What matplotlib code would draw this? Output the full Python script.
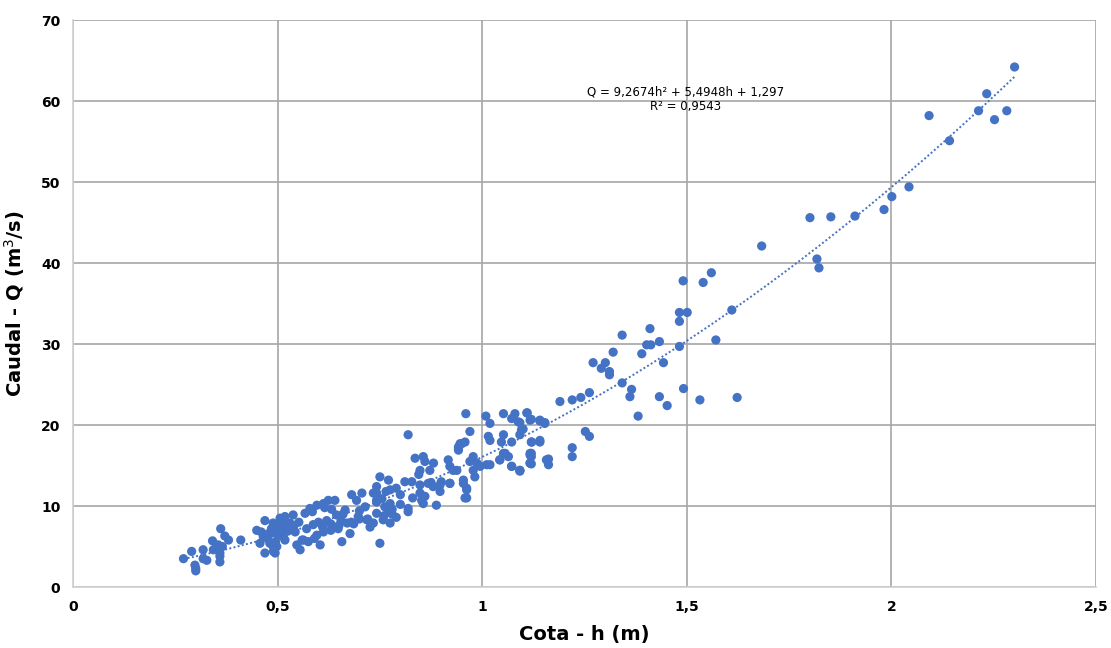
import numpy as np
import matplotlib
matplotlib.use("Agg")
import matplotlib.pyplot as plt
from matplotlib.ticker import FuncFormatter

# ============================================================
# DATA
# ============================================================

# cota h (m)
h = [
    0.270, 0.290, 0.298, 0.300, 0.318, 0.318, 0.327, 0.341, 0.343, 0.355,
    0.361, 0.359, 0.359, 0.371, 0.380, 0.410, 0.359, 0.300,
    0.449, 0.469, 0.457, 0.469, 0.481, 0.490, 0.498, 0.506, 0.514, 0.518,
    0.481, 0.498, 0.489, 0.506, 0.518, 0.498, 0.514, 0.489, 0.494, 0.460,
    0.538, 0.543, 0.567, 0.579, 0.596, 0.612, 0.624, 0.640, 0.571, 0.587,
    0.596, 0.612, 0.563, 0.575, 0.547, 0.555, 0.604, 0.644, 0.648, 0.657,
    0.677, 0.665, 0.681, 0.693, 0.706, 0.714, 0.697, 0.718, 0.726, 0.742,
    0.734, 0.750, 0.530, 0.552, 0.620, 0.632, 0.660, 0.686, 0.700, 0.670,
    0.750, 0.742, 0.742, 0.742, 0.771, 0.775, 0.762, 0.771, 0.742, 0.758,
    0.734, 0.775, 0.775, 0.819, 0.819, 0.811, 0.828, 0.836, 0.856, 0.848,
    0.860, 0.872, 0.881, 0.848, 0.868, 0.848, 0.852, 0.856, 0.888, 0.897,
    0.897, 0.921, 0.917, 0.921, 0.938, 0.942, 0.950, 0.954, 0.962, 0.962,
    0.819, 0.982, 1.011, 1.043, 1.052, 1.072, 1.092, 1.117, 1.117, 0.942,
    0.960, 1.009, 1.019, 1.052, 1.072, 1.080, 1.088, 1.109, 1.117, 1.141,
    1.153, 1.096, 1.092, 1.052, 1.047, 1.072, 1.015, 1.019, 0.970, 0.958,
    0.946, 0.942, 0.978, 0.970, 0.987, 0.995, 0.978, 1.019, 1.043, 1.056,
    1.064, 1.072, 1.092, 1.121, 1.141, 1.117, 1.117, 1.157, 0.929, 0.954,
    0.962, 0.958, 0.921, 0.900, 0.880, 0.830, 0.800, 0.790, 0.780, 0.760,
    0.720, 0.700, 0.680, 0.650, 0.630, 0.610, 0.590, 0.560, 0.540, 0.520,
    0.475, 0.485, 0.495, 0.505, 0.512, 0.525, 0.530, 0.478, 0.585, 0.600,
    0.615, 0.630, 0.655, 0.755, 0.765, 0.780, 0.790, 0.800, 0.845, 0.860,
    0.875, 0.500, 0.465, 0.350, 0.365,
    1.110, 1.120, 1.141, 1.153, 1.092, 1.100, 1.252, 1.262, 1.120, 1.141,
    1.220, 1.220, 1.120, 1.120, 1.162, 1.162, 1.120, 1.092, 1.190, 1.220,
    1.241, 1.262, 1.381, 1.365, 1.361, 1.492, 1.433, 1.452, 1.532, 1.623,
    1.342, 1.311, 1.311, 1.291, 1.301, 1.271, 1.443, 1.320, 1.390, 1.433,
    1.402, 1.412, 1.342, 1.410, 1.482, 1.482, 1.501, 1.482, 1.571, 1.610,
    1.491, 1.540, 1.560, 1.683, 1.801, 1.852, 1.911, 1.818, 1.823, 1.982,
    2.001, 2.043, 2.142, 2.092, 2.213, 2.252, 2.282, 2.233, 2.301,
]

# caudal Q (m3/s)
Q = [
    3.5, 4.4, 2.7, 2.3, 4.6, 3.5, 3.3, 5.7, 4.6, 5.2,
    7.2, 3.1, 4.2, 6.3, 5.8, 5.8, 3.8, 2.0,
    7.0, 8.2, 5.4, 4.2, 5.4, 4.4, 6.6, 7.9, 7.0, 5.8,
    6.6, 5.0, 7.9, 8.5, 8.7, 6.6, 6.2, 5.0, 4.2, 6.8,
    8.9, 6.8, 9.1, 9.7, 10.1, 10.3, 10.7, 10.7, 7.2, 7.7,
    6.4, 6.8, 5.8, 5.6, 5.2, 4.6, 5.2, 8.9, 7.2, 5.6,
    6.6, 9.5, 11.4, 10.7, 11.6, 9.9, 8.7, 8.3, 7.4, 10.5,
    11.6, 5.4, 7.6, 8.0, 8.2, 9.6, 9.0, 7.8, 8.4, 7.9,
    13.6, 12.4, 11.6, 10.7, 13.2, 12.0, 9.9, 9.3, 9.1, 8.3,
    7.9, 7.9, 10.3, 9.7, 9.3, 13.0, 13.0, 15.9, 16.1, 14.4,
    15.5, 14.4, 15.3, 12.6, 12.8, 11.6, 10.7, 10.3, 10.1, 12.6,
    11.8, 12.8, 15.7, 14.9, 14.4, 17.1, 17.7, 12.8, 12.0, 11.0,
    18.8, 13.6, 15.1, 15.7, 16.5, 14.9, 14.3, 16.3, 15.3, 17.3,
    21.4, 21.1, 20.2, 21.4, 20.8, 21.4, 20.4, 21.5, 20.6, 20.5,
    20.2, 19.4, 18.8, 18.8, 17.9, 17.9, 18.6, 18.1, 19.2, 17.9,
    17.7, 16.9, 16.1, 15.5, 15.3, 14.9, 14.4, 15.1, 15.7, 16.5,
    16.1, 14.9, 14.4, 17.9, 17.9, 16.5, 15.3, 15.7, 14.4, 13.2,
    12.2, 11.0, 12.8, 13.0, 12.4, 11.0, 10.2, 12.2, 9.6, 8.8,
    8.4, 9.4, 8.0, 7.6, 7.0, 7.4, 6.0, 5.8, 7.6, 8.0,
    6.0, 7.2, 5.6, 6.4, 7.6, 6.9, 7.9, 6.6, 9.3, 8.0,
    9.8, 7.8, 8.2, 10.9, 11.8, 9.0, 8.6, 11.4, 13.9, 11.2,
    12.9, 7.4, 6.2, 4.8, 5.0,
    21.5, 20.7, 20.6, 20.3, 20.3, 19.5, 19.2, 18.6, 17.9, 18.1,
    17.2, 16.1, 16.5, 16.1, 15.8, 15.1, 15.2, 14.4, 22.9, 23.1,
    23.4, 24.0, 21.1, 24.4, 23.5, 24.5, 23.5, 22.4, 23.1, 23.4,
    25.2, 26.6, 26.2, 27.0, 27.7, 27.7, 27.7, 29.0, 28.8, 30.3,
    29.9, 29.9, 31.1, 31.9, 29.7, 32.8, 33.9, 33.9, 30.5, 34.2,
    37.8, 37.6, 38.8, 42.1, 45.6, 45.7, 45.8, 40.5, 39.4, 46.6,
    48.2, 49.4, 55.1, 58.2, 58.8, 57.7, 58.8, 60.9, 64.2,
]

# polynomial trendline shown on the chart
coef = [9.2674, 5.4948, 1.297]
eq_text = "Q = 9,2674h² + 5,4948h + 1,297"
r2_text = "R² = 0,9543"

xticks = [0, 0.5, 1, 1.5, 2, 2.5]
yticks = [0, 10, 20, 30, 40, 50, 60, 70]

# ============================================================
# PLOT
# ============================================================

blue = "#4472C4"

fig = plt.figure(figsize=(11.11, 6.48), dpi=100)
ax = fig.add_axes([0.0657, 0.0941, 0.9208, 0.8750])

ax.scatter(h, Q, s=44, color=blue, edgecolors="none", zorder=3)

hh = np.linspace(min(h), max(h), 200)
ax.plot(hh, np.polyval(coef, hh), linestyle=(0, (1, 1.2)), color=blue,
        linewidth=1.4, zorder=4)

ax.text(1.496, 61.1, eq_text, ha="center", va="center", fontsize=8.5, zorder=5)
ax.text(1.496, 59.3, r2_text, ha="center", va="center", fontsize=8.5, zorder=5)

ax.set_xlim(0, 2.5)
ax.set_ylim(0, 70)
ax.set_xticks(xticks)
ax.set_yticks(yticks)
fmt = FuncFormatter(lambda v, p: ("%g" % v).replace(".", ","))
ax.xaxis.set_major_formatter(fmt)
ax.yaxis.set_major_formatter(fmt)

ax.grid(True, color="#a6a6a6", linewidth=1.2, zorder=0)
ax.set_axisbelow(True)
for side in ["top", "right"]:
    ax.spines[side].set_visible(False)
for side in ["left", "bottom"]:
    ax.spines[side].set_color("#d0d0d0")
    ax.spines[side].set_linewidth(1.2)

ax.tick_params(length=0, pad=9, labelsize=10)
for lab in ax.get_xticklabels() + ax.get_yticklabels():
    lab.set_fontweight("bold")

ax.set_xlabel("Cota - h (m)", fontsize=14, fontweight="bold", labelpad=8)
ax.set_ylabel("Caudal - Q (m$^3$/s)", fontsize=14, fontweight="bold", labelpad=10)

fig.savefig("out.png", dpi=100)
